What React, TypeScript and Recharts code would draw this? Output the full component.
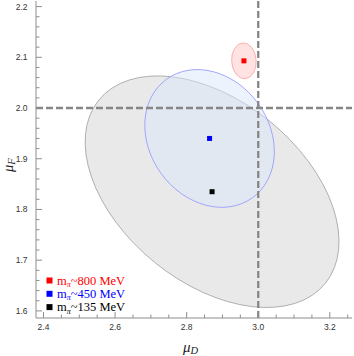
import React from 'react';
import * as R from 'recharts';

const { ScatterChart, Scatter, XAxis, YAxis, ReferenceLine, Label } = R as any;

// ---- data ----
const X_DOMAIN: [number, number] = [2.379, 3.262];
const Y_DOMAIN: [number, number] = [1.586, 2.211];

const pionMassMeV = ['800', '450', '135'];
const centerMuD = [2.96, 2.864, 2.871];
const centerMuF = [2.093, 1.94, 1.835];
const halfWidthMuD = [0.0344, 0.181, 0.3547];
const halfHeightMuF = [0.0354, 0.1358, 0.2283];
const correlation = [-0.05, -0.19, -0.43];

const refMuD = 3.0;
const refMuF = 2.0;

const xTickValues = [2.4, 2.45, 2.5, 2.55, 2.6, 2.65, 2.7, 2.75, 2.8, 2.85, 2.9, 2.95, 3.0, 3.05, 3.1, 3.15, 3.2, 3.25];
const xMajorTicks = [2.4, 2.6, 2.8, 3.0, 3.2];
const xMajorLabels = ['2.4', '2.6', '2.8', '3.0', '3.2'];
const yTickValues = [1.6, 1.62, 1.64, 1.66, 1.68, 1.7, 1.72, 1.74, 1.76, 1.78, 1.8, 1.82, 1.84, 1.86, 1.88, 1.9, 1.92, 1.94, 1.96, 1.98, 2.0, 2.02, 2.04, 2.06, 2.08, 2.1, 2.12, 2.14, 2.16, 2.18, 2.2];
const yMajorTicks = [1.6, 1.7, 1.8, 1.9, 2.0, 2.1, 2.2];
const yMajorLabels = ['1.6', '1.7', '1.8', '1.9', '2.0', '2.1', '2.2'];

// ---- styles ----
const pointColors = ['#ff0000', '#0000ff', '#000000'];
const ellipseFills = ['#ffe2e2', '#d9e8fb', '#e9e9e9'];
const ellipseFillOpacity = [1, 0.5, 1];
const ellipseStrokes = ['#ffa0a0', '#9a9aff', '#a4a4a4'];
const AXIS_COLOR = '#8e8e8e';
const TICK_FONT = 'Liberation Sans, Arial, sans-serif';
const SERIF = 'Liberation Serif, Times New Roman, serif';

const W = 354;
const H = 356;
const MARGIN = { top: 1, right: 2, bottom: 0, left: 0 };
const Y_AXIS_W = 36;
const X_AXIS_H = 38;

const RA: any = R;
const usePlotHook: any = RA.usePlotArea || (() => undefined);
const useOffsetHook: any = RA.useOffset || (() => undefined);

function usePlotBox() {
  const plot = usePlotHook();
  const off = useOffsetHook();
  if (plot && typeof plot.x === 'number') return plot;
  if (off && typeof off.left === 'number') {
    return { x: off.left, y: off.top, width: W - off.left - off.right, height: H - off.top - off.bottom };
  }
  return {
    x: MARGIN.left + Y_AXIS_W,
    y: MARGIN.top,
    width: W - MARGIN.left - MARGIN.right - Y_AXIS_W,
    height: H - MARGIN.top - MARGIN.bottom - X_AXIS_H,
  };
}

function makeScales(p: any) {
  const sx = (v: number) => p.x + ((v - X_DOMAIN[0]) / (X_DOMAIN[1] - X_DOMAIN[0])) * p.width;
  const sy = (v: number) => p.y + ((Y_DOMAIN[1] - v) / (Y_DOMAIN[1] - Y_DOMAIN[0])) * p.height;
  return { sx, sy };
}

function Ellipses() {
  const p = usePlotBox();
  const { sx, sy } = makeScales(p);
  const order = [2, 1, 0];
  return (
    <g>
      {order.map((i) => {
        const cx = sx(centerMuD[i]);
        const cy = sy(centerMuF[i]);
        const wp = Math.abs(sx(centerMuD[i] + halfWidthMuD[i]) - cx);
        const hp = Math.abs(sy(centerMuF[i] + halfHeightMuF[i]) - cy);
        const rho = -correlation[i];
        const sxx = wp * wp;
        const syy = hp * hp;
        const sxy = rho * wp * hp;
        const theta = 0.5 * Math.atan2(2 * sxy, sxx - syy);
        const mid = (sxx + syy) / 2;
        const d = Math.sqrt(((sxx - syy) / 2) ** 2 + sxy * sxy);
        const rx = Math.sqrt(mid + d);
        const ry = Math.sqrt(Math.max(mid - d, 0));
        return (
          <ellipse
            key={i}
            cx={cx}
            cy={cy}
            rx={rx}
            ry={ry}
            transform={`rotate(${(theta * 180) / Math.PI} ${cx} ${cy})`}
            fill={ellipseFills[i]}
            fillOpacity={ellipseFillOpacity[i]}
            stroke={ellipseStrokes[i]}
            strokeWidth={0.8}
          />
        );
      })}
    </g>
  );
}

function LegendBox() {
  const p = usePlotBox();
  const x0 = p.x + 13.5;
  const y0 = p.y + p.height - 37.5;
  return (
    <g>
      {pionMassMeV.map((m, i) => (
        <g key={m}>
          <rect x={x0 - 3} y={y0 + i * 13.3 - 3} width={6} height={6} fill={pointColors[i]} />
          <text x={x0 + 7.5} y={y0 + i * 13.3 + 4} fontFamily={SERIF} fontSize={12.5} fill={pointColors[i]}>
            <tspan>m</tspan>
            <tspan dy={2.5} fontSize={8} fontStyle="italic">π</tspan>
            <tspan dy={-2.5}>{`~${m} MeV`}</tspan>
          </text>
        </g>
      ))}
    </g>
  );
}

const findMajor = (v: number, majors: number[]) => majors.findIndex((m) => Math.abs(m - v) < 1e-6);

const BottomTick = (props: any) => {
  const { x, y, payload } = props;
  const i = findMajor(payload.value, xMajorTicks);
  const len = i >= 0 ? 6 : 3.5;
  return (
    <g>
      <line x1={x} x2={x} y1={y} y2={y - len} stroke={AXIS_COLOR} strokeWidth={1} />
      {i >= 0 && (
        <text x={x} y={y + 11.5} textAnchor="middle" fontFamily={TICK_FONT} fontSize={8.5} fill="#333">
          {xMajorLabels[i]}
        </text>
      )}
    </g>
  );
};

const TopTick = (props: any) => {
  const { x, y, payload } = props;
  const i = findMajor(payload.value, xMajorTicks);
  const len = i >= 0 ? 6 : 3.5;
  return <line x1={x} x2={x} y1={y} y2={y + len} stroke={AXIS_COLOR} strokeWidth={1} />;
};

const LeftTick = (props: any) => {
  const { x, y, payload } = props;
  const i = findMajor(payload.value, yMajorTicks);
  const len = i >= 0 ? 6 : 3.5;
  return (
    <g>
      <line x1={x} x2={x + len} y1={y} y2={y} stroke={AXIS_COLOR} strokeWidth={1} />
      {i >= 0 && (
        <text x={x - 8.5} y={y + 3} textAnchor="end" fontFamily={TICK_FONT} fontSize={8.5} fill="#333">
          {yMajorLabels[i]}
        </text>
      )}
    </g>
  );
};

const RightTick = (props: any) => {
  const { x, y, payload } = props;
  const i = findMajor(payload.value, yMajorTicks);
  const len = i >= 0 ? 6 : 3.5;
  return <line x1={x} x2={x - len} y1={y} y2={y} stroke={AXIS_COLOR} strokeWidth={1} />;
};

const XTitle = (props: any) => {
  const vb = props.viewBox || { x: 36, y: 318, width: 316, height: 38 };
  return (
    <text x={vb.x + vb.width / 2 - 11} y={vb.y + 34} fontFamily={SERIF} fontStyle="italic" fontSize={15} fill="#222">
      <tspan>μ</tspan>
      <tspan dy={1.5} fontSize={10.5}>D</tspan>
    </text>
  );
};

const YTitle = (props: any) => {
  const vb = props.viewBox || { x: 0, y: 1, width: 36, height: 317 };
  const cx = 13;
  const cy = vb.y + vb.height / 2 + 12.5;
  return (
    <text x={cx} y={cy} transform={`rotate(-90 ${cx} ${cy})`} fontFamily={SERIF} fontStyle="italic" fontSize={14.5} fill="#222">
      <tspan>μ</tspan>
      <tspan dy={1.5} fontSize={10.5}>F</tspan>
    </text>
  );
};

export default function App() {
  return (
    <div style={{ position: 'absolute', left: 0, top: 0, width: W, height: H, background: '#fff' }}>
      <ScatterChart width={W} height={H} margin={MARGIN}>
        <XAxis
          xAxisId={0}
          type="number"
          dataKey="x"
          domain={X_DOMAIN}
          allowDataOverflow
          ticks={xTickValues}
          interval={0}
          tickSize={0}
          tickMargin={0}
          tickLine={false}
          tick={BottomTick}
          height={X_AXIS_H}
          axisLine={{ stroke: AXIS_COLOR }}
        >
          <Label content={XTitle} />
        </XAxis>
        <XAxis
          xAxisId="top"
          orientation="top"
          type="number"
          domain={X_DOMAIN}
          allowDataOverflow
          ticks={xTickValues}
          interval={0}
          tickSize={0}
          tickMargin={0}
          tickLine={false}
          tick={TopTick}
          height={0}
          axisLine={{ stroke: AXIS_COLOR }}
        />
        <YAxis
          yAxisId={0}
          type="number"
          dataKey="y"
          domain={Y_DOMAIN}
          allowDataOverflow
          ticks={yTickValues}
          interval={0}
          tickSize={0}
          tickMargin={0}
          tickLine={false}
          tick={LeftTick}
          width={Y_AXIS_W}
          axisLine={{ stroke: AXIS_COLOR }}
        >
          <Label content={YTitle} />
        </YAxis>
        <YAxis
          yAxisId="right"
          orientation="right"
          type="number"
          domain={Y_DOMAIN}
          allowDataOverflow
          ticks={yTickValues}
          interval={0}
          tickSize={0}
          tickMargin={0}
          tickLine={false}
          tick={RightTick}
          width={0}
          axisLine={{ stroke: AXIS_COLOR }}
        />
        <Ellipses />
        <ReferenceLine x={refMuD} stroke="#868686" strokeWidth={2.3} strokeDasharray="7 3" />
        <ReferenceLine y={refMuF} stroke="#868686" strokeWidth={2.3} strokeDasharray="7 3" />
        {pionMassMeV.map((m, i) => (
          <Scatter
            key={m}
            name={`m_π~${m} MeV`}
            data={[{ x: centerMuD[i], y: centerMuF[i] }]}
            fill={pointColors[i]}
            isAnimationActive={false}
            shape={(p: any) => <rect x={p.cx - 2.5} y={p.cy - 2.5} width={5} height={5} fill={pointColors[i]} />}
          />
        ))}
        <LegendBox />
      </ScatterChart>
    </div>
  );
}
